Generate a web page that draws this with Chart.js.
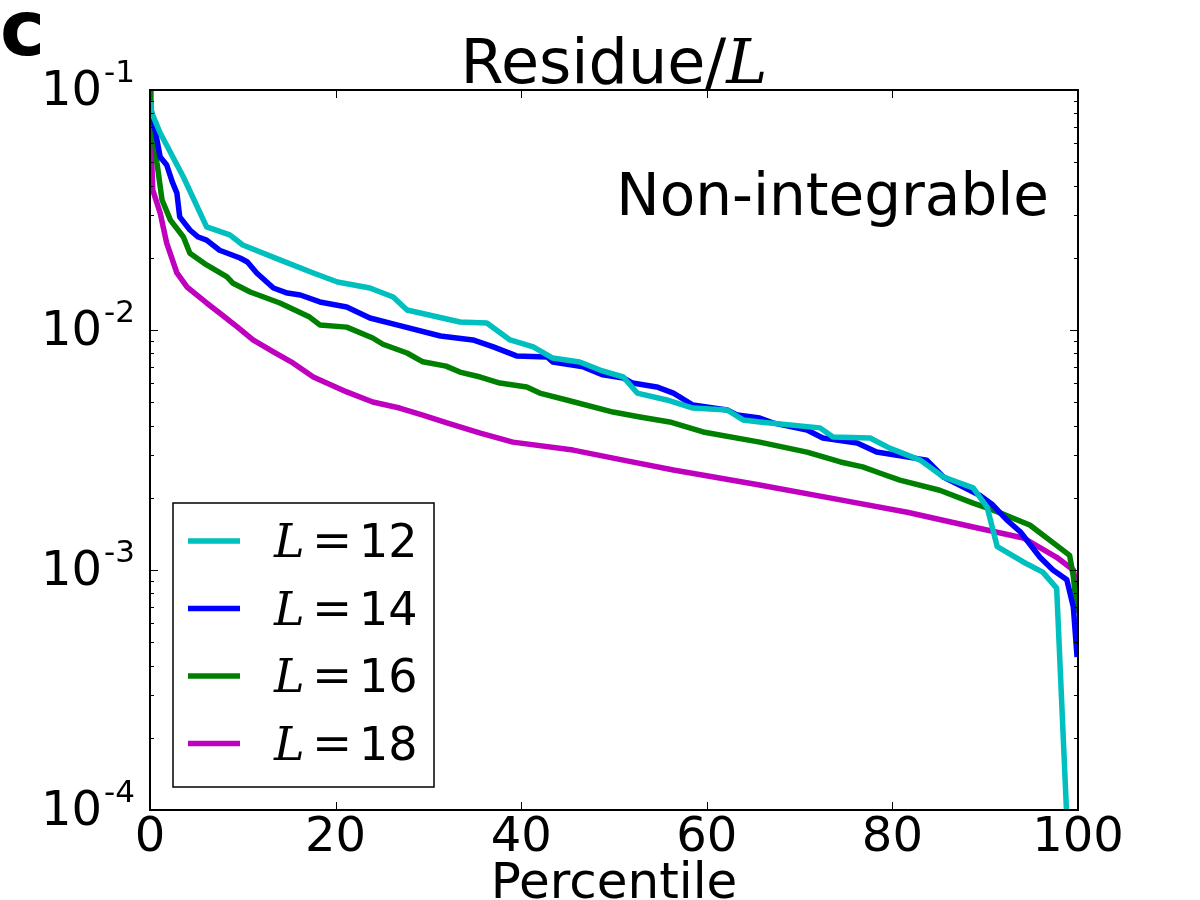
<!DOCTYPE html>
<html>
<head>
<meta charset="utf-8">
<script src="https://cdn.jsdelivr.net/npm/chart.js@4.4.1/dist/chart.umd.min.js"></script>
<style>
  html, body { margin: 0; padding: 0; background: #fff; }
  #wrap { width: 1200px; height: 900px; }
</style>
</head>
<body>
<div id="wrap"><canvas id="chart" width="1200" height="900"></canvas></div>
<script>
// values (percentile -> residue/L)
const pct12 = [0, 0.2, 1.1, 3.6, 6.1, 8.6, 10.0, 14.0, 17.6, 20.2, 23.7, 26.2, 27.7, 33.4, 36.3, 38.8, 41.3, 43.4, 46.3, 48.5, 51.0, 52.5, 55.7, 58.5, 62.2, 63.9, 65.7, 72.2, 73.6, 77.6, 79.7, 83.0, 85.5, 88.7, 90.2, 91.3, 94.1, 96.2, 97.7, 99.1];
const res12 = [0.09, 0.0802, 0.0662, 0.0434, 0.0269, 0.0249, 0.0226, 0.0196, 0.01728, 0.01585, 0.01496, 0.01372, 0.01212, 0.0108, 0.0107, 0.00909, 0.0085, 0.00764, 0.00736, 0.00681, 0.00637, 0.00546, 0.00511, 0.00473, 0.00464, 0.00422, 0.00414, 0.00391, 0.00358, 0.00355, 0.00322, 0.00287, 0.00244, 0.0022, 0.00183, 0.00125, 0.00108, 0.00098, 0.00084, 0.00005];

const pct14 = [0, 0.2, 1.1, 1.8, 2.4, 2.9, 3.2, 4.3, 5.2, 6.1, 7.5, 9.7, 10.5, 11.5, 13.3, 14.8, 16.2, 18.3, 21.2, 23.7, 26.6, 31.3, 34.8, 37.0, 39.5, 42.8, 43.4, 46.7, 48.8, 51.0, 52.0, 54.6, 56.4, 58.5, 62.2, 63.3, 65.7, 67.1, 70.8, 72.5, 76.2, 78.3, 83.7, 85.5, 89.4, 90.8, 92.3, 93.8, 95.9, 97.3, 98.8, 99.5, 99.9];
const res14 = [0.085, 0.0802, 0.0526, 0.0487, 0.0414, 0.0372, 0.0296, 0.0261, 0.0244, 0.0237, 0.0215, 0.01995, 0.0192, 0.01728, 0.01496, 0.01425, 0.01399, 0.01309, 0.01247, 0.01122, 0.0105, 0.00944, 0.00909, 0.0085, 0.0078, 0.00772, 0.00736, 0.00702, 0.0065, 0.00631, 0.00601, 0.00579, 0.00546, 0.00487, 0.00464, 0.00442, 0.0043, 0.0041, 0.00383, 0.00355, 0.00338, 0.0031, 0.00287, 0.00244, 0.00205, 0.00187, 0.00162, 0.00144, 0.00113, 0.001, 0.00091, 0.0007, 0.000434];

const pct16 = [0, 0.1, 0.75, 1.3, 2.2, 3.6, 4.3, 6.1, 8.3, 8.9, 10.8, 14.0, 17.2, 18.3, 21.2, 24.0, 25.1, 27.7, 29.4, 31.9, 33.4, 35.6, 37.7, 40.6, 42.0, 44.9, 49.9, 52.8, 56.0, 59.6, 65.7, 67.1, 70.8, 74.4, 76.8, 78.7, 80.8, 85.1, 88.7, 90.8, 94.8, 95.9, 97.3, 99.1, 99.5, 99.9];
const res16 = [0.1, 0.083, 0.0497, 0.0348, 0.0287, 0.0244, 0.0209, 0.01866, 0.01663, 0.0157, 0.0144, 0.01296, 0.01132, 0.0105, 0.01028, 0.00926, 0.00872, 0.00802, 0.00737, 0.00707, 0.00668, 0.00637, 0.00601, 0.00579, 0.00546, 0.00511, 0.00455, 0.00434, 0.00414, 0.00376, 0.00341, 0.00332, 0.0031, 0.00282, 0.00269, 0.00253, 0.00237, 0.00215, 0.0019, 0.00178, 0.00154, 0.00143, 0.0013, 0.00115, 0.00094, 0.00066];

const pct18 = [0, 0.3, 1.1, 1.8, 2.9, 4.0, 6.1, 7.5, 9.4, 11.1, 13.3, 15.4, 17.6, 21.2, 24.0, 26.9, 29.4, 32.0, 35.6, 39.1, 45.6, 51.0, 56.4, 65.7, 74.4, 81.6, 88.7, 94.1, 97.7, 99.5, 99.9];
const res18 = [0.08, 0.0383, 0.0307, 0.023, 0.01728, 0.0151, 0.01296, 0.01177, 0.0103, 0.00909, 0.0081, 0.00729, 0.00637, 0.00552, 0.00501, 0.00473, 0.00442, 0.0041, 0.00372, 0.00341, 0.00316, 0.00287, 0.00261, 0.00226, 0.00196, 0.00174, 0.00151, 0.00136, 0.00113, 0.001, 0.00083];

const sizesL = [12, 14, 16, 18];
const colors = ['#00BFBF', '#0000FF', '#008000', '#BF00BF'];
const yTickExps = [-1, -2, -3, -4];

const series = [[pct12, res12], [pct14, res14], [pct16, res16], [pct18, res18]];

const FONT = '"DejaVu Sans", sans-serif';
const MATH = '"DejaVu Serif", serif';

// frame, inward ticks, y labels, title, legend, text
const decor = {
  id: 'decor',
  afterDraw(chart) {
    const { ctx, chartArea: a, scales } = chart;
    const x = scales.x, y = scales.y;
    ctx.save();

    // ticks
    ctx.strokeStyle = '#000';
    ctx.lineWidth = 1;
    const seg = (x1, y1, x2, y2) => { ctx.beginPath(); ctx.moveTo(x1, y1); ctx.lineTo(x2, y2); ctx.stroke(); };
    x.ticks.forEach(t => {
      const px = Math.round(x.getPixelForValue(t.value)) + 0.5;
      seg(px, a.bottom, px, a.bottom - 8);
      seg(px, a.top, px, a.top + 8);
    });
    yTickExps.forEach(e => {
      const py = Math.round(y.getPixelForValue(Math.pow(10, e))) + 0.5;
      seg(a.left, py, a.left + 8, py);
      seg(a.right, py, a.right - 8, py);
      for (let k = 2; k <= 9 && e < -1; k++) {
        const pm = Math.round(y.getPixelForValue(k * Math.pow(10, e))) + 0.5;
        seg(a.left, pm, a.left + 4, pm);
        seg(a.right, pm, a.right - 4, pm);
      }
    });

    // frame
    ctx.lineWidth = 2;
    ctx.strokeRect(a.left, a.top, a.right - a.left, a.bottom - a.top);

    // y tick labels 10^e
    ctx.fillStyle = '#000';
    ctx.textBaseline = 'alphabetic';
    yTickExps.forEach(e => {
      const py = y.getPixelForValue(Math.pow(10, e));
      const sup = String(e);
      ctx.font = '31px ' + FONT;
      const sw = ctx.measureText(sup).width;
      const xr = a.left - 15;
      ctx.textAlign = 'right';
      ctx.fillText(sup, xr, py - 8);
      ctx.font = '48px ' + FONT;
      ctx.fillText('10', xr - sw - 2, py + 15);
    });

    // title Residue/L
    ctx.font = '62px ' + FONT;
    const t1 = 'Residue/';
    const w1 = ctx.measureText(t1).width;
    ctx.font = 'italic 62px ' + MATH;
    const w2 = ctx.measureText('L').width;
    const cx = (a.left + a.right) / 2;
    const tx = cx - (w1 + w2) / 2;
    ctx.textAlign = 'left';
    ctx.font = '62px ' + FONT;
    ctx.fillText(t1, tx, 83);
    ctx.font = 'italic 62px ' + MATH;
    ctx.fillText('L', tx + w1, 83);

    // panel letter
    ctx.font = 'bold 76px ' + FONT;
    ctx.fillText('c', 0, 55);

    // annotation
    ctx.font = '58px ' + FONT;
    ctx.textAlign = 'right';
    ctx.fillText('Non-integrable', a.right - 29, 215);

    // x axis title
    ctx.textAlign = 'center';
    ctx.font = '50px ' + FONT;
    ctx.fillText('Percentile', cx, 898);

    // legend
    const lx = a.left + 23, ly = 503, lw = 261, lh = 284;
    ctx.fillStyle = '#fff';
    ctx.fillRect(lx, ly, lw, lh);
    ctx.lineWidth = 1.5;
    ctx.strokeStyle = '#000';
    ctx.strokeRect(lx, ly, lw, lh);
    chart.data.datasets.forEach((ds, i) => {
      const yy = 541 + i * 67.5;
      ctx.strokeStyle = ds.borderColor;
      ctx.lineWidth = 5.5;
      seg(lx + 15, yy, lx + 67, yy);
      ctx.fillStyle = '#000';
      ctx.textAlign = 'left';
      ctx.font = 'italic 46px ' + MATH;
      ctx.fillText('L', lx + 101, yy + 16);
      ctx.font = '48px ' + MATH;
      ctx.fillText('=', lx + 139, yy + 16);
      ctx.font = '46px ' + FONT;
      ctx.fillText(String(sizesL[i]), lx + 186, yy + 16);
    });

    ctx.restore();
  }
};

const datasets = series.map((s, i) => ({
  label: 'L = ' + sizesL[i],
  data: s[0].map((p, j) => ({ x: p, y: s[1][j] })),
  borderColor: colors[i],
  borderWidth: 5.5,
  borderJoinStyle: 'round',
  pointRadius: 0,
  tension: 0,
  fill: false,
  clip: 0
}));

new Chart(document.getElementById('chart'), {
  type: 'line',
  data: { datasets },
  options: {
    responsive: false,
    animation: false,
    events: [],
    layout: { padding: { top: 90, right: 122, left: 0, bottom: 0 } },
    plugins: { legend: { display: false }, title: { display: false }, tooltip: { enabled: false } },
    scales: {
      x: {
        type: 'linear',
        min: 0,
        max: 100,
        grid: { display: false, drawTicks: false },
        border: { display: false },
        ticks: { stepSize: 20, padding: 0, color: '#000', font: { family: 'DejaVu Sans', size: 48 }, maxRotation: 0 },
        afterFit(scale) { scale.height = 90; }
      },
      y: {
        type: 'logarithmic',
        min: 1e-4,
        max: 1e-1,
        grid: { display: false, drawTicks: false },
        border: { display: false },
        ticks: { display: false },
        afterFit(scale) { scale.width = 150; }
      }
    }
  },
  plugins: [decor]
});
</script>
</body>
</html>
